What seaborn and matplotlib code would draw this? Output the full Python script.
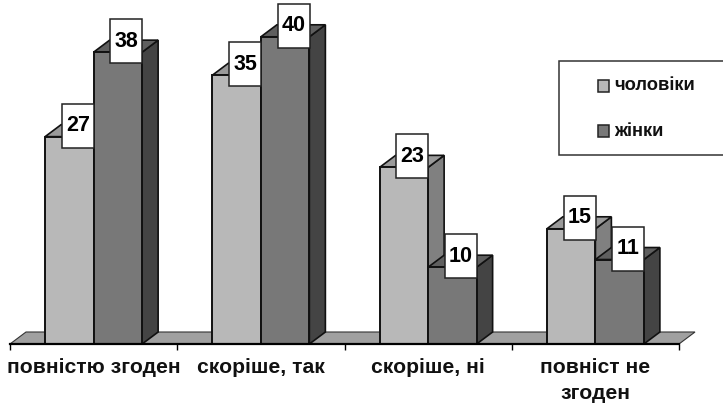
import pandas as pd
import seaborn as sns
import matplotlib
matplotlib.use('Agg')
import matplotlib.pyplot as plt
from matplotlib.patches import Polygon, Rectangle

# values
categories = ['повністю згоден', 'скоріше, так', 'скоріше, ні', 'повніст не\nзгоден']
men = [27, 35, 23, 15]
women = [38, 40, 10, 11]
series_names = ['чоловіки', 'жінки']

W, H = 723, 404
DX, DY = 16, 12          # 3d depth in pixels
PX_PER_UNIT = 7.68

front = ['#b8b8b8', '#787878']
top = ['#9a9a9a', '#5f5f5f']
side = ['#808080', '#444444']

sns.set_theme(style='white')
plt.rcParams['font.family'] = ['Liberation Sans', 'DejaVu Sans']
plt.rcParams['text.kerning_factor'] = 0

df = pd.DataFrame({
    'category': categories * 2,
    'value': men + women,
    'series': [series_names[0]] * 4 + [series_names[1]] * 4,
})

fig = plt.figure(figsize=(W / 100, H / 100), dpi=100)
ax = fig.add_axes([10 / W, (H - 344) / H, 669 / W, 344 / H])
sns.barplot(data=df, x='category', y='value', hue='series', hue_order=series_names,
            palette=front, width=0.58, gap=0, saturation=1, legend=False,
            edgecolor='#111111', linewidth=1.4, ax=ax)
ax.set_xlim(-0.5, 3.5)
ax.set_ylim(0, 344 / PX_PER_UNIT)
ax.set_xlabel('')
ax.set_ylabel('')
ax.set_yticks([])

# depth in data units
dx = DX * 4 / 669
dy = DY / PX_PER_UNIT

# floor band
ax.add_patch(Polygon([(-0.5, 0), (3.5, 0), (3.5 + dx, dy), (-0.5 + dx, dy)], closed=True,
                     facecolor='#a0a0a0', edgecolor='#333333', linewidth=0.8,
                     zorder=1, clip_on=False))

# side and top faces of the bars, then the value cards
for i, container in enumerate(ax.containers):
    for bar in container:
        x0 = bar.get_x()
        x1 = x0 + bar.get_width()
        h = bar.get_height()
        z = 2 + i
        bar.set_zorder(z + 0.5)
        ax.add_patch(Polygon([(x1, 0), (x1 + dx, dy), (x1 + dx, h + dy), (x1, h)], closed=True,
                             facecolor=side[i], edgecolor='#111111', linewidth=1.2,
                             zorder=z, clip_on=False))
        ax.add_patch(Polygon([(x0, h), (x0 + dx, h + dy), (x1 + dx, h + dy), (x1, h)], closed=True,
                             facecolor=top[i], edgecolor='#111111', linewidth=1.2,
                             zorder=z, clip_on=False))

for i, container in enumerate(ax.containers):
    for bar in container:
        h = bar.get_height()
        cx = bar.get_x() + bar.get_width() / 2 + 8.5 * 4 / 669
        cy = h + 11 / PX_PER_UNIT
        bw = 32 * 4 / 669
        bh = 44 / PX_PER_UNIT
        ax.add_patch(Rectangle((cx - bw / 2, cy - bh / 2), bw, bh, facecolor='white',
                               edgecolor='#222222', linewidth=1.1, zorder=6, clip_on=False))
        ax.text(cx, cy, f'{h:.0f}', ha='center', va='center', fontsize=15.5,
                fontweight='bold', color='black', zorder=7)

sns.despine(ax=ax, left=True, top=True, right=True)
ax.spines['bottom'].set_linewidth(1.6)
ax.spines['bottom'].set_color('black')
ax.spines['bottom'].set_zorder(5)

ax.set_xticks([-0.5, 0.5, 1.5, 2.5, 3.5], minor=True)
ax.tick_params(axis='x', which='minor', bottom=True, length=4, width=1, color='black')
ax.tick_params(axis='x', which='major', bottom=False, pad=4)
for label in ax.get_xticklabels():
    label.set_fontsize(15.2)
    label.set_fontweight('bold')
    label.set_color('#111111')
    label.set_linespacing(1.5)

# legend box, pixel coordinates from the top left
leg = fig.add_axes([0, 0, 1, 1], facecolor='none')
leg.set_xlim(0, W)
leg.set_ylim(H, 0)
leg.axis('off')
leg.add_patch(Rectangle((559, 61), 170, 94, facecolor='white', edgecolor='#333333', linewidth=1.1))
for name, color, y in zip(series_names, front, [86, 131]):
    leg.add_patch(Rectangle((598, y - 6), 11, 12, facecolor=color, edgecolor='#222222', linewidth=1.1))
    leg.text(614, y, name, ha='left', va='center', fontsize=13.2, fontweight='bold', color='#111111')

fig.savefig('out.png', dpi=100)
